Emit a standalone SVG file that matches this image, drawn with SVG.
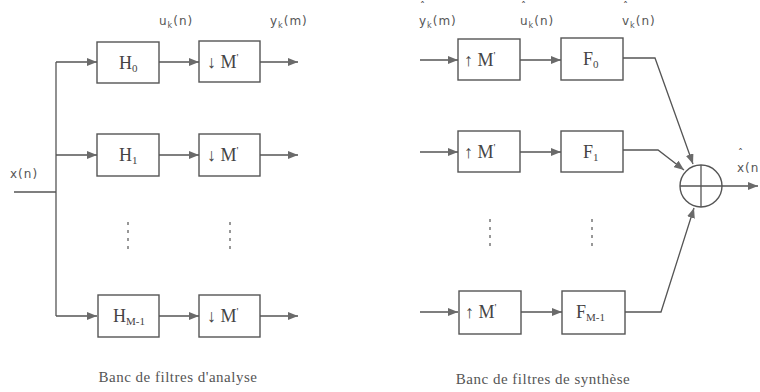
<svg xmlns="http://www.w3.org/2000/svg" width="760" height="392" viewBox="0 0 760 392">
<defs>
<marker id="ah" viewBox="0 0 10 8" refX="10" refY="4" markerWidth="10" markerHeight="8" markerUnits="userSpaceOnUse" orient="auto">
<path d="M0,0 L10,4 L0,8 Z" fill="#6a6a6a"/>
</marker>
</defs>
<style>
.bx{fill:#fff;stroke:#555;stroke-width:1.4}
.ln{fill:none;stroke:#555;stroke-width:1.3}
.ar{fill:none;stroke:#555;stroke-width:1.3;marker-end:url(#ah)}
.bt{font-family:"Liberation Serif",serif;font-size:18px;fill:#444}
.sb{font-size:11px}
.lb{font-family:"DejaVu Sans",sans-serif;font-size:12px;fill:#555;letter-spacing:1px}
.ls{font-size:8px}
.hat{font-family:"DejaVu Sans",sans-serif;font-size:10px;fill:#444}
.cap{font-family:"Liberation Serif",serif;font-size:15px;fill:#555;letter-spacing:0.5px}
.dots{stroke:#777;stroke-width:1.5;stroke-dasharray:3,5}
</style>
<rect width="760" height="392" fill="#fff"/>

<g id="connectors">
<line class="ln" x1="14" y1="192" x2="56" y2="192"/>
<line class="ln" x1="56" y1="62" x2="56" y2="316"/>
<line class="ar" x1="56" y1="62" x2="97" y2="62"/>
<line class="ar" x1="56" y1="155" x2="97" y2="155"/>
<line class="ar" x1="56" y1="316" x2="97" y2="316"/>
<line class="ar" x1="159" y1="62" x2="199" y2="62"/>
<line class="ar" x1="159" y1="155" x2="199" y2="155"/>
<line class="ar" x1="159" y1="316" x2="199" y2="316"/>
<line class="ar" x1="260" y1="62" x2="298" y2="62"/>
<line class="ar" x1="260" y1="155" x2="298" y2="155"/>
<line class="ar" x1="260" y1="316" x2="298" y2="316"/>

<line class="ar" x1="420" y1="60" x2="458" y2="60"/>
<line class="ar" x1="420" y1="152" x2="458" y2="152"/>
<line class="ar" x1="420" y1="312" x2="458" y2="312"/>
<line class="ar" x1="520" y1="60" x2="561" y2="60"/>
<line class="ar" x1="520" y1="152" x2="561" y2="152"/>
<line class="ar" x1="521" y1="312" x2="562" y2="312"/>
<polyline class="ar" points="623,58 655,58 693,164"/>
<polyline class="ar" points="623,150 658,150 684,170"/>
<polyline class="ar" points="625,312 661,312 694,208"/>
<line class="ar" x1="722" y1="186" x2="758" y2="186"/>
</g>

<g id="H0"><rect class="bx" x="97" y="42" width="62" height="41"/><text class="bt" x="119" y="69">H<tspan class="sb" dy="3">0</tspan></text></g>
<g id="H1"><rect class="bx" x="97" y="134" width="62" height="42"/><text class="bt" x="119" y="161">H<tspan class="sb" dy="3">1</tspan></text></g>
<g id="HM1"><rect class="bx" x="98" y="295" width="61" height="42"/><text class="bt" x="113" y="322">H<tspan class="sb" dy="3">M-1</tspan></text></g>
<g id="D0"><rect class="bx" x="199" y="41" width="61" height="41"/><text class="bt" x="207" y="68">↓ M<tspan class="sb" dy="-7">'</tspan></text></g>
<g id="D1"><rect class="bx" x="199" y="134" width="61" height="42"/><text class="bt" x="207" y="161">↓ M<tspan class="sb" dy="-7">'</tspan></text></g>
<g id="DM1"><rect class="bx" x="199" y="295" width="61" height="42"/><text class="bt" x="207" y="322">↓ M<tspan class="sb" dy="-7">'</tspan></text></g>

<g id="U0"><rect class="bx" x="458" y="39" width="62" height="41"/><text class="bt" x="464" y="66">↑ M<tspan class="sb" dy="-7">'</tspan></text></g>
<g id="U1"><rect class="bx" x="458" y="131" width="62" height="41"/><text class="bt" x="464" y="158">↑ M<tspan class="sb" dy="-7">'</tspan></text></g>
<g id="UM1"><rect class="bx" x="459" y="291" width="62" height="43"/><text class="bt" x="465" y="318">↑ M<tspan class="sb" dy="-7">'</tspan></text></g>
<g id="F0"><rect class="bx" x="561" y="38" width="62" height="42"/><text class="bt" x="583" y="65">F<tspan class="sb" dy="3">0</tspan></text></g>
<g id="F1"><rect class="bx" x="561" y="131" width="62" height="41"/><text class="bt" x="583" y="158">F<tspan class="sb" dy="3">1</tspan></text></g>
<g id="FM1"><rect class="bx" x="562" y="291" width="63" height="43"/><text class="bt" x="576" y="318">F<tspan class="sb" dy="3">M-1</tspan></text></g>

<g id="sum">
<circle cx="701" cy="186" r="21" fill="#fff" stroke="#555" stroke-width="1.4"/>
<line class="ln" x1="680" y1="186" x2="722" y2="186"/>
<line class="ln" x1="701" y1="165" x2="701" y2="207"/>
</g>

<g id="dots">
<line class="dots" x1="128" y1="222" x2="128" y2="250"/>
<line class="dots" x1="230" y1="222" x2="230" y2="250"/>
<line class="dots" x1="490" y1="219" x2="490" y2="247"/>
<line class="dots" x1="592" y1="219" x2="592" y2="247"/>
</g>

<g id="labels">
<text class="lb" x="10" y="178">x(n)</text>
<text class="lb" x="159" y="25">u<tspan class="ls" dy="3">k</tspan><tspan dy="-3">(n)</tspan></text>
<text class="lb" x="270" y="25">y<tspan class="ls" dy="3">k</tspan><tspan dy="-3">(m)</tspan></text>
<text class="lb" x="419" y="25">y<tspan class="ls" dy="3">k</tspan><tspan dy="-3">(m)</tspan></text>
<text class="hat" x="420" y="10">ˆ</text>
<text class="lb" x="520" y="25">u<tspan class="ls" dy="3">k</tspan><tspan dy="-3">(n)</tspan></text>
<text class="hat" x="521" y="10">ˆ</text>
<text class="lb" x="622" y="25">v<tspan class="ls" dy="3">k</tspan><tspan dy="-3">(n)</tspan></text>
<text class="hat" x="623" y="10">ˆ</text>
<text class="lb" x="737" y="172" letter-spacing="0">x(n</text>
<text class="hat" x="738" y="157">ˆ</text>
<text class="cap" x="178" y="382" text-anchor="middle">Banc de filtres d'analyse</text>
<text class="cap" x="543" y="384" text-anchor="middle">Banc de filtres de synthèse</text>
</g>
</svg>
